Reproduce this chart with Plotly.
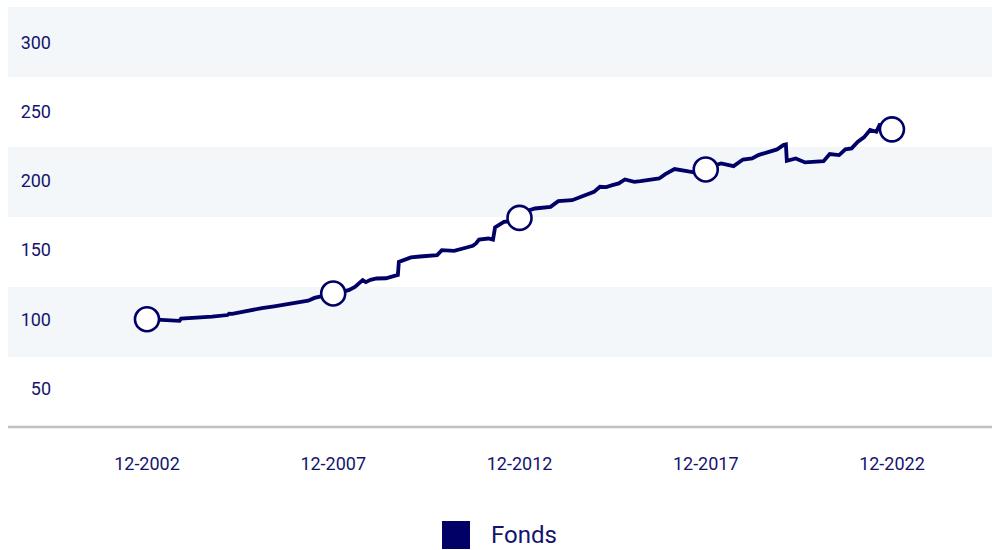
import plotly.graph_objects as go

# Fund value history (indexed, start = 100)
dates = [
    "2002-12-31", "2003-04-30", "2003-08-31", "2003-11-15", "2003-11-30",
    "2004-04-30", "2004-09-30", "2005-02-28", "2005-03-15", "2005-04-15",
    "2005-07-31", "2005-11-30", "2006-01-31", "2006-05-31", "2006-08-31",
    "2006-10-31", "2006-12-31", "2007-02-28", "2007-04-30", "2007-06-30",
    "2007-09-30", "2007-12-31", "2008-03-31", "2008-05-31", "2008-07-31",
    "2008-09-15", "2008-10-15", "2008-11-15", "2008-12-31", "2009-02-28",
    "2009-05-31", "2009-08-31", "2009-09-25", "2009-10-05", "2010-01-31",
    "2010-04-30", "2010-07-31", "2010-10-15", "2010-11-30", "2011-03-31",
    "2011-07-31", "2011-09-30", "2011-10-31", "2011-11-30", "2012-02-29",
    "2012-04-15", "2012-05-05", "2012-07-31", "2012-09-30", "2012-12-31",
    "2013-03-31", "2013-05-31", "2013-10-31", "2014-01-15", "2014-05-31",
    "2014-08-31", "2014-12-31", "2015-02-28", "2015-04-30", "2015-06-30",
    "2015-08-31", "2015-10-31", "2016-01-31", "2016-03-31", "2016-06-30",
    "2016-09-30", "2016-11-30", "2017-02-28", "2017-06-30", "2017-09-30",
    "2017-12-31", "2018-02-28", "2018-05-31", "2018-09-30", "2018-12-31",
    "2019-03-31", "2019-05-31", "2019-08-31", "2019-11-30", "2020-01-31",
    "2020-02-25", "2020-03-05", "2020-05-31", "2020-08-31", "2020-11-30",
    "2021-01-31", "2021-02-28", "2021-04-30", "2021-07-31", "2021-09-30",
    "2021-11-30", "2022-01-31", "2022-03-31", "2022-05-31", "2022-07-31",
    "2022-08-31", "2022-10-31", "2022-12-31",
]
fonds = [
    100.0, 99.4, 99.0, 98.8, 100.4,
    100.8, 101.8, 103.0, 104.0, 103.8,
    105.5, 107.2, 108.0, 109.3, 110.4,
    111.8, 112.3, 113.2, 113.4, 115.4,
    117.0, 118.6, 119.8, 121.0, 123.3,
    125.8, 128.2, 126.8, 128.4, 129.4,
    129.6, 131.5, 132.0, 141.4, 144.6,
    145.3, 145.8, 146.3, 149.9, 149.4,
    151.8, 153.0, 154.7, 157.6, 158.3,
    157.5, 166.3, 170.3, 170.8, 173.2,
    178.5, 180.0, 181.2, 185.3, 186.0,
    188.4, 192.0, 195.7, 195.5, 196.9,
    198.1, 201.0, 199.3, 199.8, 201.0,
    201.7, 204.8, 208.5, 207.0, 205.8,
    208.2, 210.5, 212.6, 210.6, 215.4,
    216.2, 218.6, 221.0, 222.7, 225.8,
    226.3, 214.5, 216.2, 213.3, 213.8,
    214.2, 214.2, 219.3, 218.6, 222.7,
    223.4, 228.2, 231.4, 236.7, 235.4,
    240.3, 238.5, 237.2,
]

# Five-yearly checkpoints highlighted on the line
marker_dates = ["2002-12-31", "2007-12-31", "2012-12-31", "2017-12-31", "2022-12-31"]
marker_values = [fonds[dates.index(d)] for d in marker_dates]

x_tick_vals = marker_dates
x_tick_text = ["12-2002", "12-2007", "12-2012", "12-2017", "12-2022"]
y_tick_vals = [50, 100, 150, 200, 250, 300]

NAVY = "#000066"
TEXT = "#14146e"
BAND = "#f4f7f9"
FONT = "Roboto, Inter, Arial, sans-serif"

fig = go.Figure()

fig.add_trace(go.Scatter(
    x=dates, y=fonds, mode="lines", name="Fonds",
    line=dict(color=NAVY, width=3.8), showlegend=False,
    hoverinfo="skip",
))
fig.add_trace(go.Scatter(
    x=marker_dates, y=marker_values, mode="markers",
    marker=dict(size=24, color="white", line=dict(color=NAVY, width=2.6)),
    showlegend=False, hoverinfo="skip",
))

L, R, T, B = 60, 0, 7, 123
W, H = 992, 550
left_ext = -(L - 8) / (W - L - R)

shapes = []
# alternating horizontal bands (top, middle, lower)
for k in (5, 3, 1):
    shapes.append(dict(type="rect", xref="paper", yref="paper",
                       x0=left_ext, x1=1, y0=k / 6, y1=(k + 1) / 6,
                       fillcolor=BAND, line=dict(width=0), layer="below"))
# base line of the x axis
shapes.append(dict(type="line", xref="paper", yref="paper",
                   x0=left_ext, x1=1, y0=0, y1=0,
                   line=dict(color="#c0c0c0", width=2.5), layer="above"))

# legend: filled square + label
plot_w = W - L - R
plot_h = H - T - B
sq_cx = (456 - L) / plot_w
sq_cy = (plot_h + T - 535) / plot_h
shapes.append(dict(type="rect", xref="paper", yref="paper",
                   xsizemode="pixel", ysizemode="pixel",
                   xanchor=sq_cx, yanchor=sq_cy,
                   x0=-14, x1=14, y0=-14, y1=14,
                   fillcolor=NAVY, line=dict(width=0)))

fig.update_layout(
    width=W, height=H,
    margin=dict(l=L, r=R, t=T, b=B),
    paper_bgcolor="white", plot_bgcolor="white",
    font=dict(family=FONT, color=TEXT, size=18),
    shapes=shapes,
    annotations=[dict(
        text="Fonds", xref="paper", yref="paper",
        x=(489 - L) / plot_w, y=sq_cy, xanchor="left", yanchor="middle",
        showarrow=False, font=dict(size=24, color=TEXT, family=FONT),
    )],
    showlegend=False,
    xaxis=dict(
        type="date", range=["2000-08-30", "2025-09-07"],
        tickvals=x_tick_vals, ticktext=x_tick_text,
        showgrid=False, zeroline=False, showline=False,
        ticks="", ticklabelstandoff=24,
        tickfont=dict(size=18, color=TEXT),
    ),
    yaxis=dict(
        range=[22.1, 325.6], tickvals=y_tick_vals,
        showgrid=False, zeroline=False, showline=False,
        ticks="", ticklabelstandoff=8,
        tickfont=dict(size=18, color=TEXT),
    ),
)

fig.write_html("out.html")
